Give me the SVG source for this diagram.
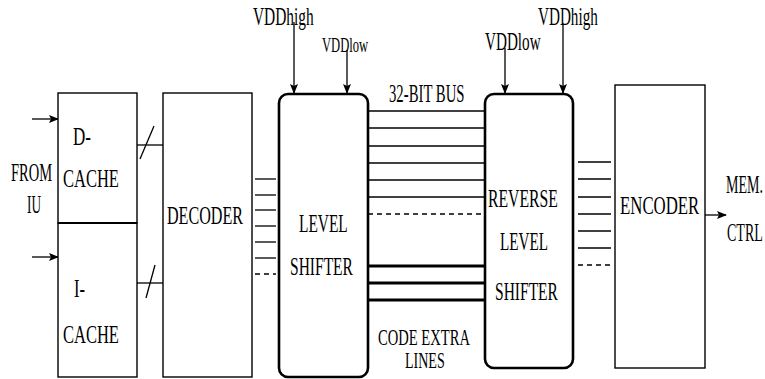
<svg xmlns="http://www.w3.org/2000/svg" width="765" height="379" viewBox="0 0 765 379">
<style>
.t text{font-family:'Liberation Serif','Times New Roman',Times,serif;font-size:25px;fill:#000}
.t text.s{font-size:23px}
.box{fill:#fff;stroke:#000;stroke-width:1.4}
.ls{fill:#fff;stroke:#000;stroke-width:2.6}
.w{stroke:#000;stroke-width:1.3;fill:none}
.dash{stroke:#000;stroke-width:1.3;stroke-dasharray:5,4;fill:none}
.thick{stroke:#000;stroke-width:3.2;fill:none}
.arr{stroke:#000;stroke-width:1.3;fill:none;marker-end:url(#ah)}
</style>
<defs>
<marker id="ah" markerWidth="10" markerHeight="8" refX="9" refY="4" orient="auto" markerUnits="userSpaceOnUse">
<path d="M0,0 L10,4 L0,8 L2,4 Z" fill="#000"/>
</marker>
</defs>
<rect width="765" height="379" fill="#fff"/>
<g id="connectors">
<line class="arr" x1="32" y1="119" x2="58" y2="119"/>
<line class="arr" x1="32" y1="257" x2="58" y2="257"/>
<line class="w" x1="137" y1="145" x2="163" y2="145"/>
<line class="w" x1="140" y1="159" x2="154" y2="126"/>
<line class="w" x1="137" y1="283" x2="163" y2="283"/>
<line class="w" x1="146" y1="298" x2="155" y2="265"/>
<g>
<line class="w" x1="255" y1="179" x2="276" y2="179"/>
<line class="w" x1="255" y1="195" x2="276" y2="195"/>
<line class="w" x1="255" y1="210" x2="276" y2="210"/>
<line class="w" x1="255" y1="226" x2="276" y2="226"/>
<line class="w" x1="255" y1="242" x2="276" y2="242"/>
<line class="w" x1="255" y1="258" x2="276" y2="258"/>
<line class="dash" x1="255" y1="274" x2="276" y2="274"/>
</g>
<g>
<line class="w" x1="368" y1="111" x2="484" y2="111"/>
<line class="w" x1="368" y1="128" x2="484" y2="128"/>
<line class="w" x1="368" y1="146" x2="484" y2="146"/>
<line class="w" x1="368" y1="163" x2="484" y2="163"/>
<line class="w" x1="368" y1="180" x2="484" y2="180"/>
<line class="w" x1="368" y1="197" x2="484" y2="197"/>
<line class="dash" x1="368" y1="214" x2="484" y2="214"/>
<line class="thick" x1="368" y1="266" x2="484" y2="266"/>
<line class="thick" x1="368" y1="283" x2="484" y2="283"/>
<line class="thick" x1="368" y1="300" x2="484" y2="300"/>
</g>
<g>
<line class="w" x1="578" y1="162" x2="611" y2="162"/>
<line class="w" x1="578" y1="179" x2="611" y2="179"/>
<line class="w" x1="578" y1="197" x2="611" y2="197"/>
<line class="w" x1="578" y1="214" x2="611" y2="214"/>
<line class="w" x1="578" y1="231" x2="611" y2="231"/>
<line class="w" x1="578" y1="248" x2="611" y2="248"/>
<line class="dash" x1="578" y1="265" x2="611" y2="265"/>
</g>
<line class="arr" x1="705" y1="215" x2="726" y2="215"/>
<line class="arr" x1="294" y1="22" x2="294" y2="93"/>
<line class="arr" x1="347" y1="50" x2="347" y2="93"/>
<line class="arr" x1="505" y1="48" x2="505" y2="93"/>
<line class="arr" x1="563" y1="23" x2="563" y2="93"/>
</g>
<g id="from-iu" class="t">
<text transform="translate(11,181) scale(0.58,1)">FROM</text>
<text transform="translate(27,213) scale(0.53,1)">IU</text>
</g>
<g id="d-cache" class="t">
<rect class="box" x="58" y="93" width="79" height="130"/>
<text transform="translate(73,145) scale(0.68,1)">D-</text>
<text transform="translate(63,187) scale(0.66,1)">CACHE</text>
</g>
<g id="i-cache" class="t">
<rect class="box" x="58" y="223" width="79" height="154"/>
<line x1="58" y1="223" x2="137" y2="223" stroke="#000" stroke-width="2"/>
<text transform="translate(74,297) scale(0.66,1)">I-</text>
<text transform="translate(63,343) scale(0.66,1)">CACHE</text>
</g>
<g id="decoder" class="t">
<rect class="box" x="163" y="93" width="89" height="284"/>
<text transform="translate(167,224) scale(0.644,1)">DECODER</text>
</g>
<g id="level-shifter" class="t">
<rect class="ls" x="279" y="94" width="89" height="283" rx="9"/>
<text transform="translate(299,232) scale(0.616,1)">LEVEL</text>
<text transform="translate(290,275) scale(0.621,1)">SHIFTER</text>
</g>
<g id="reverse-level-shifter" class="t">
<rect class="ls" x="485" y="94" width="88" height="274" rx="9"/>
<text transform="translate(488,207) scale(0.63,1)">REVERSE</text>
<text transform="translate(500,250) scale(0.607,1)">LEVEL</text>
<text transform="translate(495,300) scale(0.621,1)">SHIFTER</text>
</g>
<g id="encoder" class="t">
<rect class="box" x="615" y="85" width="90" height="283"/>
<text transform="translate(620,214) scale(0.672,1)">ENCODER</text>
</g>
<g id="labels" class="t">
<text transform="translate(389,102) scale(0.59,1)">32-BIT BUS</text>
<text class="s" transform="translate(378,345) scale(0.634,1)">CODE EXTRA</text>
<text class="s" transform="translate(405,368) scale(0.61,1)">LINES</text>
<text transform="translate(726,193) scale(0.56,1)">MEM.</text>
<text transform="translate(727,241) scale(0.56,1)">CTRL</text>
<text transform="translate(253,25) scale(0.616,1)">VDDhigh</text>
<text transform="translate(322,52) scale(0.60,1)" style="font-size:21px">VDDlow</text>
<text transform="translate(485,50) scale(0.607,1)">VDDlow</text>
<text transform="translate(538,25) scale(0.607,1)">VDDhigh</text>
</g>
</svg>
